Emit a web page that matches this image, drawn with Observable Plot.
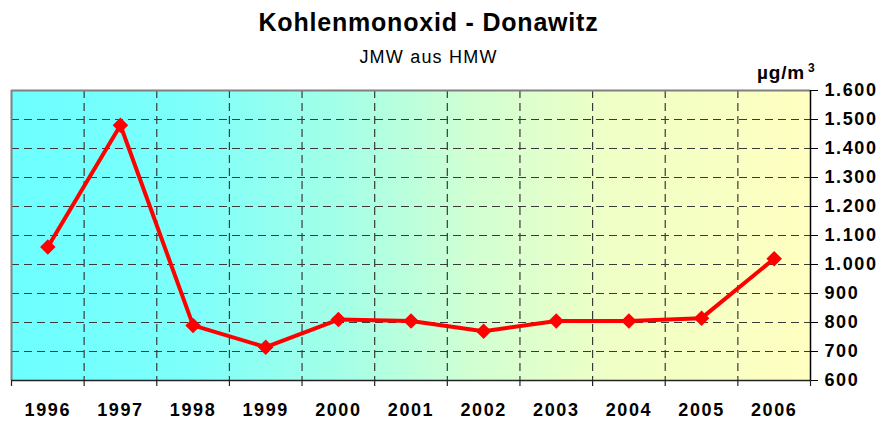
<!DOCTYPE html>
<html>
<head>
<meta charset="utf-8">
<script src="https://cdn.jsdelivr.net/npm/d3@7"></script>
<script src="https://cdn.jsdelivr.net/npm/@observablehq/plot@0.6"></script>
<style>
  html, body { margin: 0; padding: 0; background: #fff; }
  #wrap { width: 883px; font-family: "Liberation Sans", Arial, sans-serif; }
  #head { position: relative; height: 80px; }
  #title { position: absolute; left: 0; width: 857px; top: 7px; line-height: 30px; text-align: center; font-weight: bold; font-size: 25px; letter-spacing: 0.8px; color: #000; }
  #subtitle { position: absolute; left: 0; width: 857px; top: 46px; line-height: 22px; text-align: center; font-size: 18px; letter-spacing: 1.2px; color: #000; }
  #unit { position: absolute; left: 757px; top: 57px; line-height: 22px; font-weight: bold; font-size: 19px; letter-spacing: 0.8px; color: #000; }
  #unit sup { font-size: 12px; vertical-align: 7px; margin-left: 3px; }
  #chart svg text { font-size: 18px; font-weight: bold; letter-spacing: 1.6px; fill: #000; }
</style>
</head>
<body>
<div id="wrap">
  <div id="head">
    <div id="title">Kohlenmonoxid - Donawitz</div>
    <div id="subtitle">JMW aus HMW</div>
    <div id="unit">µg/m<sup>3</sup></div>
  </div>
  <div id="chart"></div>
</div>
<script>
const years = [1996, 1997, 1998, 1999, 2000, 2001, 2002, 2003, 2004, 2005, 2006];
const values = [1060, 1480, 790, 715, 810, 805, 770, 805, 805, 815, 1020];
const yTicks = [600, 700, 800, 900, 1000, 1100, 1200, 1300, 1400, 1500, 1600];

const data = years.map((y, i) => ({year: y, value: values[i]}));
const bounds = years.map(y => y - 0.5).concat([years[years.length - 1] + 0.5]);
const innerBounds = bounds.slice(1, -1);
const xMin = bounds[0], xMax = bounds[bounds.length - 1];
const yMin = yTicks[0], yMax = yTicks[yTicks.length - 1];
const fmt = d => d3.format(",")(d).replace(/,/g, ".");

const defs = () => {
  const g = d3.create("svg:defs");
  const grad = g.append("linearGradient").attr("id", "bgGrad").attr("x1", "0").attr("x2", "1").attr("y1", "0").attr("y2", "0");
  [["0%", "#6cffff"], ["22%", "#7dfffb"], ["42%", "#a6ffe6"], ["58%", "#d2ffd2"], ["75%", "#efffc6"], ["100%", "#ffffc0"]]
    .forEach(([o, c]) => grad.append("stop").attr("offset", o).attr("stop-color", c));
  return g.node();
};

const chart = Plot.plot({
  width: 883,
  height: 343,
  marginLeft: 11,
  marginRight: 73,
  marginTop: 10,
  marginBottom: 43,
  style: {fontFamily: "'Liberation Sans', Arial, sans-serif", fontSize: "18px", background: "transparent", overflow: "visible"},
  x: {type: "linear", domain: [xMin, xMax]},
  y: {domain: [yMin, yMax]},
  marks: [
    defs,
    Plot.frame({fill: "url(#bgGrad)", stroke: "none"}),
    Plot.ruleY(yTicks.slice(1, -1), {stroke: "#3a3a3a", strokeWidth: 1.2, strokeDasharray: "8,5"}),
    Plot.ruleX(innerBounds, {stroke: "#3a3a3a", strokeWidth: 1.2, strokeDasharray: "8,5"}),
    Plot.ruleY([yMax], {stroke: "#808080", strokeWidth: 2}),
    Plot.ruleX([xMin], {stroke: "#808080", strokeWidth: 2}),
    Plot.ruleY([yMin], {stroke: "#222", strokeWidth: 1.5}),
    Plot.ruleX([xMax], {stroke: "#000", strokeWidth: 1.5}),
    Plot.axisX({ticks: bounds, tickFormat: () => "", tickSize: 6, stroke: "#222", strokeWidth: 1.2, label: null}),
    Plot.axisX({ticks: years, tickFormat: d => String(d), tickSize: 0, tickPadding: 23, fontSize: 18, fontWeight: "bold", fill: "#000", label: null}),
    Plot.axisY({anchor: "right", ticks: yTicks, tickFormat: fmt, tickSize: 7, tickPadding: 7, fontSize: 18, fontWeight: "bold", fill: "#000", stroke: "#000", label: null}),
    Plot.line(data, {x: "year", y: "value", stroke: "#ff0000", strokeWidth: 4, strokeLinejoin: "round"}),
    Plot.dot(data, {x: "year", y: "value", symbol: "diamond2", r: 7, fill: "#ff0000", stroke: "none"})
  ]
});
document.getElementById("chart").appendChild(chart);
</script>
</body>
</html>
